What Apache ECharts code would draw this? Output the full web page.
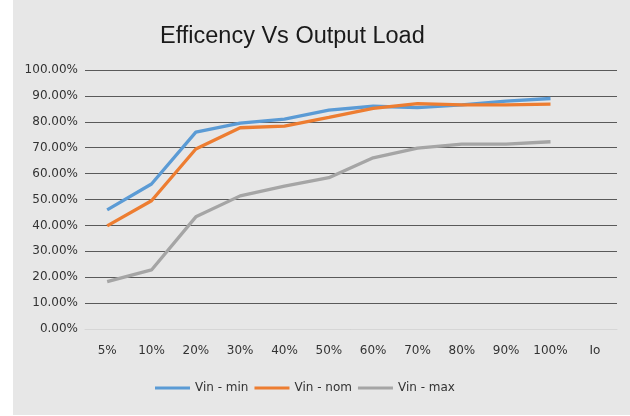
<!DOCTYPE html>
<html>
<head>
<meta charset="utf-8">
<script src="https://cdn.jsdelivr.net/npm/echarts@6/dist/echarts.min.js"></script>
<style>
html,body{margin:0;padding:0;background:#ffffff;width:630px;height:416px;overflow:hidden;}
#chart{position:absolute;left:13px;top:0;width:617px;height:415px;}
</style>
</head>
<body>
<div id="chart"></div>
<script>
var categories = ['5%','10%','20%','30%','40%','50%','60%','70%','80%','90%','100%','Io'];
var vinMin = [46.0, 56.0, 76.0, 79.5, 81.0, 84.5, 86.0, 85.5, 86.5, 88.0, 89.0, null];
var vinNom = [39.8, 49.5, 69.5, 77.7, 78.3, 81.7, 85.2, 87.0, 86.5, 86.5, 86.8, null];
var vinMax = [18.3, 22.8, 43.3, 51.4, 55.2, 58.4, 66.1, 69.8, 71.4, 71.4, 72.3, null];
var seriesNames = ['Vin - min','Vin - nom','Vin - max'];
var colors = ['#5b9bd5','#ed7d31','#a5a5a5'];

var chart = echarts.init(document.getElementById('chart'));
var font = 'DejaVu Sans';
function mk(name, data, color){
  return {name:name,type:'line',data:data,symbol:'none',smooth:false,
    lineStyle:{width:3.3,color:color},itemStyle:{color:color},connectNulls:false};
}
chart.setOption({
  backgroundColor:'#e7e7e7',
  animation:false,
  title:{text:'Efficency Vs Output Load',left:142,top:20,
    textStyle:{fontFamily:'Liberation Sans',fontSize:23.5,fontWeight:'normal',color:'#1a1a1a'}},
  legend:{bottom:16,left:137,icon:'rect',itemWidth:35,itemHeight:3,itemGap:6,
    textStyle:{fontFamily:font,fontSize:12,color:'#333'},data:seriesNames},
  grid:{left:72,right:13,top:70,bottom:86,containLabel:false},
  xAxis:{type:'category',data:categories,boundaryGap:true,
    axisLine:{lineStyle:{color:'#d6d6d6'}},axisTick:{show:false},
    axisLabel:{interval:0,margin:16,fontFamily:font,fontSize:12,color:'#333'}},
  yAxis:{type:'value',min:0,max:100,interval:10,
    axisLine:{show:false},axisTick:{show:false},
    splitLine:{lineStyle:{color:'#5a5a5a',width:1}},
    axisLabel:{margin:7,fontFamily:font,fontSize:12,color:'#333',
      formatter:function(v){return v.toFixed(2)+'%';}}},
  series:[mk(seriesNames[0],vinMin,colors[0]),mk(seriesNames[1],vinNom,colors[1]),mk(seriesNames[2],vinMax,colors[2])]
});
</script>
</body>
</html>
